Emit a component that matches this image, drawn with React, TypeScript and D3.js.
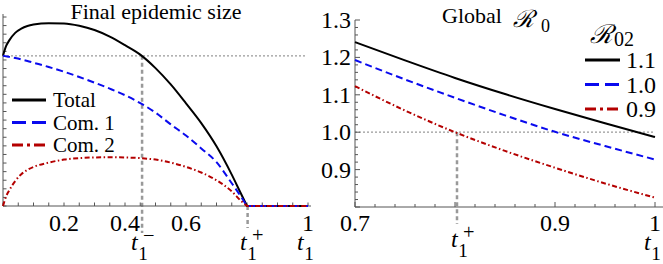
import * as d3 from "d3";

const width = 663;
const height = 264;

// left panel: final epidemic size vs t1
const tLeft = [0, 0.01, 0.02, 0.04, 0.06, 0.08, 0.1, 0.15, 0.2, 0.25, 0.3, 0.35, 0.4, 0.45, 0.5, 0.55, 0.6, 0.65, 0.7, 0.75, 0.78, 0.8, 0.85, 0.9, 0.95, 1];
const totalSize = [0.1748, 0.186, 0.1925, 0.2015, 0.2065, 0.2095, 0.2112, 0.2128, 0.2125, 0.2098, 0.2048, 0.1972, 0.1872, 0.1762, 0.1605, 0.1415, 0.1195, 0.0965, 0.0695, 0.0365, 0.0145, 0, 0, 0, 0, 0];
const com1Size = [0.1748, 0.1742, 0.1736, 0.1722, 0.1706, 0.1688, 0.1668, 0.1618, 0.1563, 0.1502, 0.1436, 0.1366, 0.129, 0.1198, 0.1087, 0.095, 0.082, 0.067, 0.051, 0.0265, 0.011, 0, 0, 0, 0, 0];
const com2Size = [0, 0.011, 0.018, 0.029, 0.037, 0.042, 0.0455, 0.0505, 0.054, 0.0557, 0.0565, 0.0568, 0.0565, 0.0557, 0.054, 0.0505, 0.0455, 0.039, 0.03, 0.017, 0.006, 0, 0, 0, 0, 0];
const leftXLabels = [0.2, 0.4, 0.6, 1];
const leftLegend = ["Total", "Com. 1", "Com. 2"];

// right panel: global R0 vs t1
const tRight = [0.7, 0.75, 0.8, 0.85, 0.9, 0.95, 1];
const r0For11 = [1.241, 1.192, 1.145, 1.102, 1.062, 1.024, 0.987];
const r0For10 = [1.193, 1.141, 1.092, 1.045, 1.001, 0.963, 0.927];
const r0For09 = [1.123, 1.058, 1.0, 0.95, 0.905, 0.863, 0.825];
const rightXLabels = [0.7, 0.9, 1];
const rightYLabels = [0.9, 1.0, 1.1, 1.2, 1.3];
const rightLegend = ["1.1", "1.0", "0.9"];

const tMinus = 0.456;
const tPlus = 0.802;
const initialSize = 0.1748;

const serif = "'Liberation Serif', 'DejaVu Serif', serif";
const font = (size: number, italic = false) => ({ fontFamily: serif, fontSize: size, fontStyle: italic ? "italic" : "normal" });
const axisColor = "#555";
const guideColor = "#999";
const styles = [
  { color: "#000", dash: "none", legendDash: "none" },
  { color: "#0a0aee", dash: "7,4", legendDash: "14,6" },
  { color: "#b40000", dash: "5,2.5,1.5,2.5", legendDash: "11,4,3,4" },
];

const Sym = ({ x, y, base, sub, sup, size = 24 }: { x: number; y: number; base: string; sub?: string; sup?: string; size?: number }) => (
  <g>
    <text x={x} y={y} style={font(size, true)}>{base}</text>
    {sub && <text x={x + size * 0.3} y={y + 10} style={font(size * 0.8)}>{sub}</text>}
    {sup && <text x={x + size * 0.5} y={y - 8} style={font(size * 0.85)}>{sup}</text>}
  </g>
);

// smooth up to the kink at t1+, flat after it
const kink = tLeft.indexOf(0.8);

export default function App() {
  const xL = d3.scaleLinear().domain([0, 1]).range([3, 308]);
  const yL = d3.scaleLinear().domain([0, 0.22]).range([206, 17]);
  const xR = d3.scaleLinear().domain([0.7, 1]).range([355, 655]);
  const yR = d3.scaleLinear().domain([0.8, 1.3]).range([207, 20]);

  const smoothL = d3
    .line<[number, number]>()
    .x((d) => xL(d[0]))
    .y((d) => yL(d[1]))
    .curve(d3.curveMonotoneX);
  const lineR = d3
    .line<number>()
    .x((_, i) => xR(tRight[i]))
    .y((d) => yR(d))
    .curve(d3.curveMonotoneX);

  const leftSeries = [totalSize, com1Size, com2Size];
  const rightSeries = [r0For11, r0For10, r0For09];
  const leftPath = (s: number[]) => {
    const pts = s.map((v, i) => [tLeft[i], v] as [number, number]);
    const head = smoothL(pts.slice(0, kink + 1)) ?? "";
    const tail = pts.slice(kink + 1).map((p) => `L${xL(p[0])},${yL(p[1])}`).join("");
    return head + tail;
  };

  const xTicksL = d3.range(0, 1.0001, 0.05);
  const yTicksL = d3.range(0, 0.2201, 0.01);
  const xTicksR = d3.range(0.7, 1.0001, 0.02);
  const yTicksR = d3.range(0.8, 1.3001, 0.02);

  return (
    <svg width={width} height={height} style={{ position: "absolute", left: 0, top: 0 }}>
      <rect width={width} height={height} fill="#fff" />

      {/* ---------- left panel ---------- */}
      <text x={156} y={19} style={font(22)} textAnchor="middle">Final epidemic size</text>

      <line x1={xL(0)} x2={305} y1={yL(initialSize)} y2={yL(initialSize)} stroke={guideColor} strokeWidth={1.3} strokeDasharray="2,2" />
      <line x1={xL(tMinus)} x2={xL(tMinus)} y1={yL(initialSize)} y2={233} stroke={guideColor} strokeWidth={2.5} strokeDasharray="4,3" />
      <line x1={xL(tPlus)} x2={xL(tPlus)} y1={yL(0)} y2={228} stroke={guideColor} strokeWidth={2.5} strokeDasharray="4,3" />

      <line x1={xL(0)} x2={311} y1={yL(0)} y2={yL(0)} stroke={axisColor} />
      <line x1={xL(0)} x2={xL(0)} y1={yL(0)} y2={14} stroke={axisColor} />
      {xTicksL.map((t) => (
        <line key={"xl" + t} x1={xL(t)} x2={xL(t)} y1={yL(0)} y2={yL(0) - 3.5} stroke={axisColor} />
      ))}
      {yTicksL.map((v) => (
        <line key={"yl" + v} x1={xL(0)} x2={xL(0) + 3.5} y1={yL(v)} y2={yL(v)} stroke={axisColor} />
      ))}
      {leftXLabels.map((t) => (
        <text key={"xll" + t} x={xL(t)} y={231} style={font(24)} textAnchor="middle">{String(t)}</text>
      ))}

      {leftSeries.map((s, i) => (
        <path key={"ls" + i} d={leftPath(s)} fill="none" stroke={styles[i].color} strokeWidth={2} strokeDasharray={styles[i].dash} />
      ))}

      {leftLegend.map((name, i) => (
        <g key={"lg" + i}>
          <line x1={12} x2={46} y1={100 + i * 22.5} y2={100 + i * 22.5} stroke={styles[i].color} strokeWidth={3} strokeDasharray={styles[i].legendDash} />
          <text x={53} y={100 + i * 22.5 + 7} style={font(21)}>{name}</text>
        </g>
      ))}

      <Sym x={131} y={250} base="t" sub="1" sup="−" />
      <Sym x={240} y={250} base="t" sub="1" sup="+" />
      <Sym x={297} y={250} base="t" sub="1" />

      {/* ---------- right panel ---------- */}
      <text x={442} y={23} style={font(22)}>Global</text>
      <text x={513} y={27} style={font(24, true)}>ℛ</text>
      <text x={541} y={32} style={font(18)}>0</text>

      <line x1={xR(0.7)} x2={xR(1)} y1={yR(1)} y2={yR(1)} stroke={guideColor} strokeWidth={1.3} strokeDasharray="2,2" />
      <line x1={xR(tPlus)} x2={xR(tPlus)} y1={yR(1)} y2={224} stroke={guideColor} strokeWidth={2.5} strokeDasharray="4,3" />

      <line x1={xR(0.7)} x2={663} y1={yR(0.8)} y2={yR(0.8)} stroke={axisColor} />
      <line x1={xR(0.7)} x2={xR(0.7)} y1={yR(0.8)} y2={yR(1.3)} stroke={axisColor} />
      {xTicksR.map((t, i) => (
        <line key={"xr" + i} x1={xR(t)} x2={xR(t)} y1={yR(0.8)} y2={yR(0.8) - (i % 5 === 0 ? 5 : 3)} stroke={axisColor} />
      ))}
      {yTicksR.map((v, i) => (
        <line key={"yr" + i} x1={xR(0.7)} x2={xR(0.7) + (i % 5 === 0 ? 5 : 3)} y1={yR(v)} y2={yR(v)} stroke={axisColor} />
      ))}
      {rightXLabels.map((t) => (
        <text key={"xrl" + t} x={xR(t)} y={231} style={font(24)} textAnchor="middle">{String(t)}</text>
      ))}
      {rightYLabels.map((v) => (
        <text key={"yrl" + v} x={351} y={yR(v) + 8} style={font(24)} textAnchor="end">{v.toFixed(1)}</text>
      ))}

      {rightSeries.map((s, i) => (
        <path key={"rs" + i} d={lineR(s) ?? ""} fill="none" stroke={styles[i].color} strokeWidth={2} strokeDasharray={styles[i].dash} />
      ))}

      <text x={590} y={43} style={font(26, true)}>ℛ</text>
      <text x={614} y={46} style={font(20)}>02</text>
      {rightLegend.map((name, i) => (
        <g key={"rg" + i}>
          <line x1={585} x2={620} y1={60 + i * 24.5} y2={60 + i * 24.5} stroke={styles[i].color} strokeWidth={3} strokeDasharray={styles[i].legendDash} />
          <text x={626} y={60 + i * 24.5 + 8} style={font(24)}>{name}</text>
        </g>
      ))}

      <Sym x={451} y={247} base="t" sub="1" sup="+" />
      <Sym x={644} y={250} base="t" sub="1" />
    </svg>
  );
}
